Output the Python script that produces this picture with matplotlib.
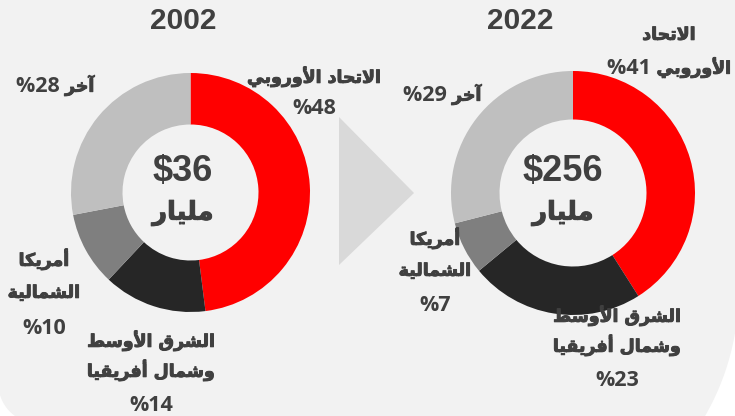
import numpy as np
import matplotlib.pyplot as plt
import matplotlib.patheffects as pe
from matplotlib.patches import Polygon

W, H = 735, 416

years = ["2002", "2022"]
totals = ["$36", "$256"]
unit = "مليار"
share_2002 = [48, 14, 10, 28]
share_2022 = [41, 23, 7, 29]
colors = ["#ff0000", "#262626", "#7f7f7f", "#bfbfbf"]

# label lines, logical order; {} gets the share
lines_2002 = [["الاتحاد الأوروبي", "%{}"],
              ["الشرق الأوسط", "وشمال أفريقيا", "%{}"],
              ["أمريكا", "الشمالية", "%{}"],
              ["آخر %{}"]]
lines_2022 = [["الاتحاد", "الأوروبي %{}"],
              ["الشرق الأوسط", "وشمال أفريقيا", "%{}"],
              ["أمريكا", "الشمالية", "%{}"],
              ["آخر %{}"]]

# matplotlib does no arabic shaping -> map to presentation forms by hand
RJ = {'ا': 0xFE8D, 'أ': 0xFE83, 'إ': 0xFE87, 'آ': 0xFE81, 'ة': 0xFE93, 'د': 0xFEA9,
      'ذ': 0xFEAB, 'ر': 0xFEAD, 'ز': 0xFEAF, 'و': 0xFEED, 'ى': 0xFEEF}
DJ = {'ب': 0xFE8F, 'ت': 0xFE95, 'ث': 0xFE99, 'ج': 0xFE9D, 'ح': 0xFEA1, 'خ': 0xFEA5,
      'س': 0xFEB1, 'ش': 0xFEB5, 'ص': 0xFEB9, 'ض': 0xFEBD, 'ط': 0xFEC1, 'ظ': 0xFEC5,
      'ع': 0xFEC9, 'غ': 0xFECD, 'ف': 0xFED1, 'ق': 0xFED5, 'ك': 0xFED9, 'ل': 0xFEDD,
      'م': 0xFEE1, 'ن': 0xFEE5, 'ه': 0xFEE9, 'ي': 0xFEF1}
LAM_ALEF = {'آ': 0xFEF5, 'أ': 0xFEF7, 'إ': 0xFEF9, 'ا': 0xFEFB}


def is_arabic(w):
    return any('\u0600' <= ch <= '\u06ff' for ch in w)


def shape_word(word):
    units = []
    i = 0
    while i < len(word):
        c = word[i]
        if c == 'ل' and i + 1 < len(word) and word[i + 1] in LAM_ALEF:
            units.append((LAM_ALEF[word[i + 1]], False))
            i += 2
            continue
        if c in DJ:
            units.append((DJ[c], True))
        elif c in RJ:
            units.append((RJ[c], False))
        else:
            units.append((c, None))
        i += 1
    out = []
    for k, (b, dual) in enumerate(units):
        if dual is None:
            out.append(b)
            continue
        prev = k > 0 and units[k - 1][1] is True
        nxt = dual and k + 1 < len(units) and units[k + 1][1] is not None
        off = {(False, False): 0, (True, False): 1, (False, True): 2, (True, True): 3}[(prev, nxt)]
        out.append(chr(b + off))
    return ''.join(reversed(out))


def visual_runs(line):
    # rtl: reverse word order, group into arabic / non-arabic runs
    runs = []
    for w in reversed(line.split(' ')):
        ar = is_arabic(w)
        s = shape_word(w) if ar else w
        if runs and runs[-1][1] == ar:
            runs[-1][0] += ' ' + s
        else:
            if runs:
                runs[-1][0] += ' '
            runs.append([s, ar])
    return runs


txt = "#404040"
ar_font = 'DejaVu Sans'
num_font = ['Open Sans', 'DejaVu Sans']
PX = 100 / 72

fig = plt.figure(figsize=(7.35, 4.16), dpi=100, facecolor="white")
ax = fig.add_axes([0, 0, 1, 1])
ax.set_xlim(0, W)
ax.set_ylim(0, H)
renderer = fig.canvas.get_renderer()
thick = [pe.withStroke(linewidth=0.7, foreground=txt)]


def draw_line(x, y, line, ar_size=12.5, num_size=15.5):
    runs = visual_runs(line)
    if any(not ar for _, ar in runs):
        base = y + 0.357 * num_size * PX
    else:
        base = y + 0.22 * ar_size * PX
    pieces = []
    for s, ar in runs:
        t = ax.text(0, H - base, s, ha="left", va="baseline", fontweight="bold", color=txt,
                    fontsize=ar_size if ar else num_size,
                    family=ar_font if ar else num_font,
                    path_effects=thick if ar else None)
        pieces.append((t, t.get_window_extent(renderer).width))
    x0 = x - sum(wd for _, wd in pieces) / 2
    for t, wd in pieces:
        t.set_x(x0)
        x0 += wd


# grey panel with rounded bottom corners
def arc(c, r, p1, p2, n=30):
    a1 = np.arctan2(p1[1] - c[1], p1[0] - c[0])
    a2 = np.arctan2(p2[1] - c[1], p2[0] - c[0])
    a = np.linspace(a1, a2, n)
    return np.column_stack([c[0] + r * np.cos(a), c[1] + r * np.sin(a)])

right = arc((488.6, 290.9), 250, (735, 333), (705, 416))
left = arc((38.3, 383.5), 40, (15, 416), (0, 395))
pts = np.vstack([[[0, 0], [735, 0]], right, left])
pts[:, 1] = H - pts[:, 1]
ax.add_patch(Polygon(pts, closed=True, fc="#f2f2f2", ec="none", zorder=0))

# arrow between the two donuts
ax.add_patch(Polygon([[339, H - 117], [414, H - 193], [339, H - 265]],
                     closed=True, fc="#d9d9d9", ec="none", zorder=1))

charts = [
    dict(share=share_2002, lines=lines_2002, c=(190.5, 192.5), r=119.5, w=51.5, title_x=183,
         mid_x=183, pos=[(314, 79, 27), (151, 343, 30), (44, 262, 32), (55, 84, 0)]),
    dict(share=share_2022, lines=lines_2022, c=(573, 193), r=122, w=48.5, title_x=520,
         mid_x=563, pos=[(669, 36, 30), (617, 318, 30), (435, 241, 31), (442, 93, 0)]),
]

for k, ch in enumerate(charts):
    cx, cy = ch["c"]
    ax.pie(ch["share"], colors=colors, startangle=90, counterclock=False,
           center=(cx, H - cy), radius=ch["r"],
           wedgeprops=dict(width=ch["w"], linewidth=0))
    ax.text(ch["title_x"], H - 21, years[k], ha="center", va="center", fontsize=21.5,
            fontweight="bold", color=txt, family="Liberation Sans")
    ax.text(ch["mid_x"], H - 171, totals[k], ha="center", va="center",
            fontsize=26, fontweight="bold", color=txt, family="Liberation Sans")
    draw_line(ch["mid_x"], 214, unit, ar_size=18.5)
    for lines, val, (x, y, dy) in zip(ch["lines"], ch["share"], ch["pos"]):
        for j, ln in enumerate(lines):
            draw_line(x, y + j * dy, ln.format(val))

ax.set_xlim(0, W)
ax.set_ylim(0, H)
ax.set_aspect("equal", adjustable="box")
ax.axis("off")

fig.savefig("out.png", dpi=100, facecolor="white")
